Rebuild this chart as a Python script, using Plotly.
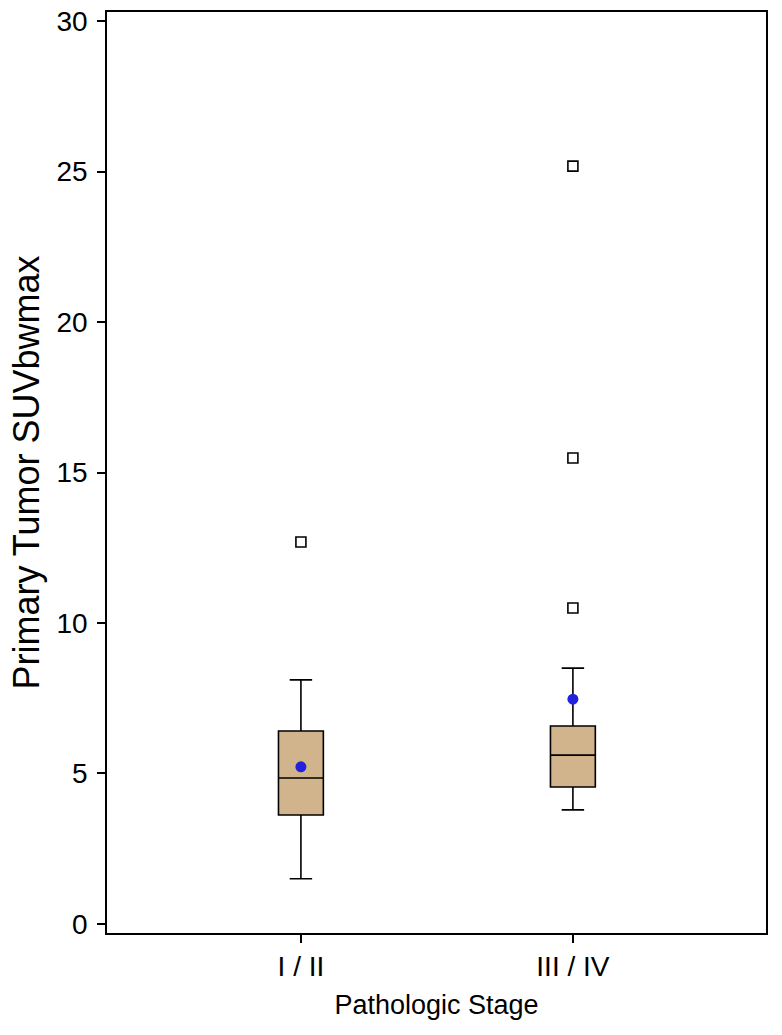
import plotly.graph_objects as go

# Data
categories = ["I / II", "III / IV"]
cat_pos = [1, 2]
q1 = [3.62, 4.55]
median = [4.85, 5.61]
q3 = [6.41, 6.58]
lower_whisker = [1.50, 3.79]
upper_whisker = [8.11, 8.50]
means = [5.22, 7.47]
outliers_x = [1, 2, 2, 2]
outliers_y = [12.69, 10.50, 15.48, 25.18]

y_ticks = [0, 5, 10, 15, 20, 25, 30]

FONT = "Liberation Sans, Arial, sans-serif"

fig = go.Figure()

for i in range(len(categories)):
    fig.add_trace(go.Box(
        x=[cat_pos[i]],
        q1=[q1[i]], median=[median[i]], q3=[q3[i]],
        lowerfence=[lower_whisker[i]], upperfence=[upper_whisker[i]],
        width=0.165, whiskerwidth=0.5,
        fillcolor="#D2B48C",
        line=dict(color="black", width=1.6),
        boxpoints=False, showlegend=False, name=categories[i],
    ))

fig.add_trace(go.Scatter(
    x=outliers_x, y=outliers_y, mode="markers",
    marker=dict(symbol="square-open", size=10, color="black", line=dict(width=1.6)),
    showlegend=False,
))

fig.add_trace(go.Scatter(
    x=cat_pos, y=means, mode="markers",
    marker=dict(symbol="circle", size=11, color="#2222DD"),
    showlegend=False,
))

fig.update_layout(
    width=782, height=1035,
    paper_bgcolor="white", plot_bgcolor="white",
    margin=dict(l=107, r=16, t=12, b=102),
    font=dict(family=FONT, color="black"),
)

fig.update_xaxes(
    range=[0.287, 2.71],
    tickvals=cat_pos, ticktext=categories,
    ticks="outside", ticklen=8, tickwidth=1.5, tickcolor="black",
    tickfont=dict(size=28, family=FONT),
    showline=True, linecolor="black", linewidth=1.5, mirror=True,
    showgrid=False, zeroline=False,
    title=dict(text="Pathologic Stage", font=dict(size=27, family=FONT), standoff=14),
    automargin=False,
)
fig.update_yaxes(
    range=[-0.3, 30.3],
    tickvals=y_ticks,
    ticks="outside", ticklen=8, tickwidth=1.5, tickcolor="black",
    tickfont=dict(size=28, family=FONT),
    ticklabelstandoff=4,
    showline=True, linecolor="black", linewidth=1.5, mirror=True,
    showgrid=False, zeroline=False,
    title=dict(text="Primary Tumor SUVbwmax", font=dict(size=36, family=FONT), standoff=6),
    automargin=False,
)

# remove the page's default body margin so the figure sits at the top-left corner
fig.write_html(
    "out.html",
    config={"displayModeBar": False},
    post_script="document.body.style.margin='0px';",
)
